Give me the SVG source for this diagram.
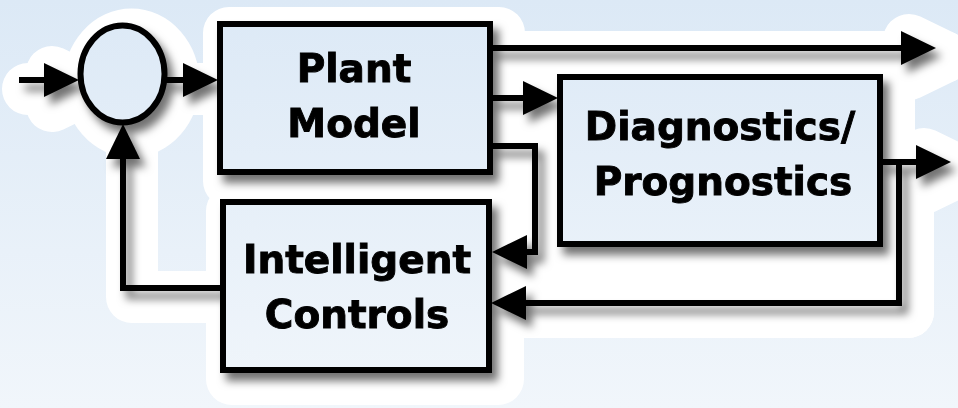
<svg xmlns="http://www.w3.org/2000/svg" width="958" height="408" viewBox="0 0 958 408">
  <defs>
    <linearGradient id="bg" x1="0" y1="0" x2="0" y2="408" gradientUnits="userSpaceOnUse">
      <stop offset="0" stop-color="#dce9f6"/>
      <stop offset="1" stop-color="#f1f6fb"/>
    </linearGradient>
    <filter id="shadow" x="-5%" y="-10%" width="115%" height="125%" color-interpolation-filters="sRGB">
      <feDropShadow dx="6" dy="8" stdDeviation="4" flood-color="#000" flood-opacity="0.55"/>
    </filter>
    <marker id="head" markerUnits="userSpaceOnUse" markerWidth="36" markerHeight="36" refX="4" refY="17" orient="auto">
      <path d="M0,0 L35,17 L0,34 Z" fill="#000"/>
    </marker>
  </defs>
  <style>
    .box { fill: url(#bg); stroke: #000; stroke-width: 6; }
    .wire { fill: none; stroke: #000; stroke-width: 6; stroke-linejoin: miter; marker-end: url(#head); }
    .label { font-family: "DejaVu Sans", Verdana, sans-serif; font-weight: bold; font-size: 39px; fill: #000; stroke: #000; stroke-width: 0.9; text-anchor: middle; }
  </style>

  <rect x="0" y="0" width="958" height="408" fill="url(#bg)"/>

  <!-- white glow behind the drawing, pushed toward the shadow side -->
  <g id="halo" transform="translate(9,9)" fill="#ffffff" stroke="#ffffff" stroke-width="52" stroke-linejoin="round" stroke-linecap="round">
    <path fill="none" d="M19,80 H78 M165,80 H217 M223,288 H123 V125 M490,48 H935 M490,98 H557 M490,146 H535 V252 H493 M880,162 H950 M899,162 V303 H492"/>
    <path d="M43,63 L78,80 L43,97 Z M900,31 L935,48 L900,65 Z M915,145 L950,162 L915,179 Z"/>
    <ellipse cx="122.5" cy="74" rx="42" ry="48.5"/>
    <rect x="220" y="24" width="270" height="148"/>
    <rect x="560" y="77" width="320" height="167"/>
    <rect x="223" y="202" width="266" height="168"/>
    <rect x="540" y="240" width="359" height="63"/>
  </g>

  <g filter="url(#shadow)">
    <g id="connectors">
      <path class="wire" d="M19,80 H48"/>
      <path class="wire" d="M165,80 H187"/>
      <path class="wire" d="M223,288 H123 V155"/>
      <path class="wire" d="M490,48 H905"/>
      <path class="wire" d="M490,98 H527"/>
      <path class="wire" d="M490,146 H535 V252 H523"/>
      <path class="wire" d="M880,162 H920"/>
      <path class="wire" d="M899,162 V303 H522"/>
    </g>

    <g id="summing-junction">
      <ellipse class="box" cx="122.5" cy="74" rx="42" ry="48.5" stroke-width="5"/>
    </g>

    <g id="plant-model">
      <rect class="box" x="220" y="24" width="270" height="148"/>
      <text class="label" x="354" y="82">Plant</text>
      <text class="label" x="354" y="137">Model</text>
    </g>

    <g id="diagnostics-prognostics">
      <rect class="box" x="560" y="77" width="320" height="167"/>
      <text class="label" x="720" y="140">Diagnostics/</text>
      <text class="label" x="723" y="195">Prognostics</text>
    </g>

    <g id="intelligent-controls">
      <rect class="box" x="223" y="202" width="266" height="168"/>
      <text class="label" x="357" y="273">Intelligent</text>
      <text class="label" x="357" y="328">Controls</text>
    </g>
  </g>
</svg>
